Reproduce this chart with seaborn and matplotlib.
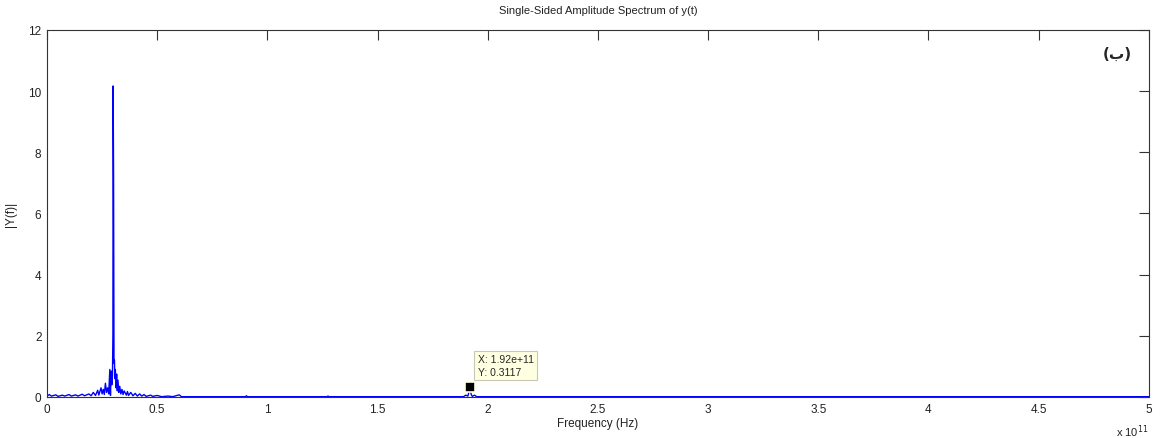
import matplotlib
matplotlib.use("Agg")
import matplotlib.pyplot as plt
import seaborn as sns
import pandas as pd

# frequency in units of 1e11 Hz, amplitude |Y(f)|
freq = [0.00, 0.01, 0.02, 0.04, 0.05, 0.07, 0.08, 0.10, 0.11, 0.13,
        0.14, 0.16, 0.17, 0.19, 0.20, 0.21, 0.22, 0.23, 0.235, 0.245,
        0.25, 0.255, 0.26, 0.265, 0.27, 0.275, 0.28, 0.285, 0.288, 0.291,
        0.294, 0.297, 0.299, 0.300, 0.302, 0.304, 0.306, 0.308, 0.310, 0.313,
        0.316, 0.319, 0.322, 0.326, 0.330, 0.335, 0.34, 0.345, 0.35, 0.36,
        0.365, 0.37, 0.38, 0.39, 0.40, 0.41, 0.42, 0.43, 0.44, 0.45,
        0.47, 0.48, 0.50, 0.52, 0.55, 0.57, 0.60, 0.61, 0.65, 0.90,
        0.905, 0.91, 1.27, 1.275, 1.28, 1.89, 1.90, 1.91, 1.92, 1.925,
        1.93, 1.94, 1.95, 5.00]
amp = [0.03, 0.08, 0.03, 0.07, 0.02, 0.06, 0.03, 0.08, 0.03, 0.07,
       0.03, 0.09, 0.04, 0.10, 0.04, 0.15, 0.05, 0.22, 0.06, 0.30,
       0.10, 0.25, 0.08, 0.45, 0.15, 0.30, 0.10, 0.90, 0.05, 0.85,
       0.40, 0.70, 2.05, 10.17, 7.20, 1.10, 1.20, 0.60, 0.90, 0.30,
       0.75, 0.20, 0.55, 0.15, 0.35, 0.10, 0.25, 0.08, 0.20, 0.06,
       0.18, 0.05, 0.15, 0.04, 0.12, 0.03, 0.10, 0.03, 0.08, 0.02,
       0.06, 0.02, 0.05, 0.01, 0.03, 0.01, 0.07, 0.01, 0.01, 0.01,
       0.04, 0.01, 0.01, 0.03, 0.01, 0.01, 0.06, 0.03, 0.3117, 0.08,
       0.02, 0.06, 0.01, 0.01]

tip_x = 1.92
tip_y = 0.3117
xticks = [0, 0.5, 1, 1.5, 2, 2.5, 3, 3.5, 4, 4.5, 5]
xtick_labels = ["0", "0.5", "1", "1.5", "2", "2.5", "3", "3.5", "4", "4.5", "5"]
yticks = [0, 2, 4, 6, 8, 10, 12]

df = pd.DataFrame({"freq": freq, "amp": amp})

sns.set_theme(style="white")
plt.rcParams["font.family"] = ["Liberation Sans", "DejaVu Sans"]
plt.rcParams["axes.edgecolor"] = "#333333"
plt.rcParams["axes.linewidth"] = 0.8

fig = plt.figure(figsize=(11.61, 4.39), dpi=100)
ax = fig.add_axes([0.0405, 0.0934, 0.949, 0.836])

sns.lineplot(data=df, x="freq", y="amp", ax=ax, color="#0000ff",
             linewidth=1.0, sort=False, estimator=None)

# data tip
ax.plot([tip_x], [tip_y], marker="s", color="black", markersize=6.5,
        markeredgecolor="#ffffe1", markeredgewidth=1.2)
ax.text(1.955, 1.03, "X: 1.92e+11\nY: 0.3117", fontsize=7.5, va="center",
        ha="left", linespacing=1.3,
        bbox=dict(boxstyle="square,pad=0.35", facecolor="#ffffe1",
                  edgecolor="#c8c8b4", linewidth=0.8))

ax.set_xlim(0, 5)
ax.set_ylim(0, 12)
ax.set_xticks(xticks)
ax.set_xticklabels(xtick_labels)
ax.set_yticks(yticks)
ax.tick_params(direction="in", length=7, width=0.8, color="#333333",
               top=True, right=True, labelsize=8.5, pad=4, labelcolor="#222222")
for s in ax.spines.values():
    s.set_visible(True)

ax.set_title("Single-Sided Amplitude Spectrum of y(t)", fontsize=8, pad=12,
             color="#222222")
ax.set_xlabel("Frequency (Hz)", fontsize=8.5, labelpad=2, color="#222222")
ax.set_ylabel("|Y(f)|", fontsize=8.5, labelpad=8, color="#222222")
ax.text(1.0, -0.068, r"x 10$^{11}$", transform=ax.transAxes, fontsize=8,
        ha="right", va="top", color="#222222")
ax.text(0.985, 0.935, "(ب)", transform=ax.transAxes, fontsize=11,
        fontweight="bold", ha="right", va="center",
        family=["DejaVu Sans"])

fig.savefig("out.png", dpi=100)
